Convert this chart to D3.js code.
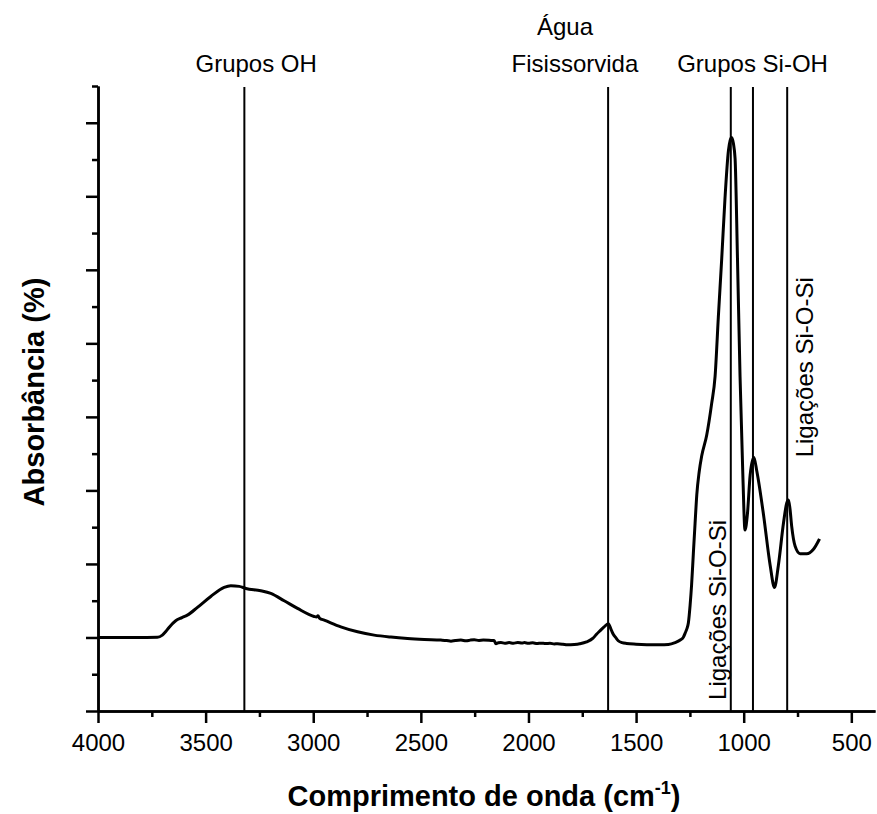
<!DOCTYPE html>
<html>
<head>
<meta charset="utf-8">
<script src="https://cdn.jsdelivr.net/npm/d3@7"></script>
<style>
    body { margin: 0; background: #fff; }
    svg text { font-family: "Liberation Sans", Arial, sans-serif; fill: #000; }
</style>
</head>
<body>
<svg width="877" height="814"></svg>
<script>
// Spectrum (wavenumber in cm-1, absorbance in arbitrary %)
var waveNumbers = [4000, 3900, 3800, 3724, 3701, 3685, 3670, 3639, 3610, 3585, 3538, 3476, 3414, 3383,
    3344, 3313, 3244, 3197, 3135, 3073, 2996, 2985, 2978, 2970, 2949, 2872, 2794, 2717, 2639, 2562,
    2484, 2407, 2380, 2360, 2340, 2314, 2290, 2270, 2252, 2230, 2210, 2174, 2160, 2151, 2140, 2128,
    2110, 2090, 2070, 2050, 2030, 2019, 2000, 1980, 1960, 1942, 1920, 1900, 1880, 1865, 1840, 1820,
    1787, 1762, 1730, 1700, 1685, 1668, 1650, 1629, 1615, 1606, 1595, 1583, 1565, 1544, 1500, 1450,
    1389, 1350, 1319, 1295, 1280, 1272, 1265, 1257, 1249, 1242, 1234, 1226, 1218, 1207, 1195, 1172,
    1149, 1133, 1118, 1102, 1087, 1071, 1063, 1056, 1048, 1040, 1029, 1017, 1004, 994, 983, 970,
    953, 939, 908, 877, 857, 839, 815, 800, 792, 785, 777, 761, 738, 707, 676, 648];
var absorbance = [0, 0, 0, 0.02, 0.32, 0.8, 1.36, 2.27, 2.7, 3.04, 4.09, 5.58, 6.81, 7.04,
    6.95, 6.67, 6.36, 5.99, 4.99, 3.95, 2.86, 2.78, 2.95, 2.6, 2.36, 1.45, 0.77, 0.32, 0.05, -0.14,
    -0.27, -0.36, -0.42, -0.5, -0.42, -0.36, -0.45, -0.36, -0.32, -0.4, -0.36, -0.4, -0.42, -0.85, -0.72, -0.68,
    -0.78, -0.7, -0.78, -0.68, -0.76, -0.7, -0.78, -0.73, -0.82, -0.77, -0.82, -0.79, -0.88, -0.86, -0.92, -1.0,
    -0.95, -0.85, -0.6, -0.1, 0.4, 0.9, 1.4, 1.85, 1.0, 0.45, 0.0, -0.45, -0.7, -0.82, -0.92, -0.98,
    -1.0, -0.95, -0.7, -0.35, 0.05, 0.6, 1.1, 2.0, 4.4, 7.2, 11.4, 15.5, 19.4, 22.5, 24.7, 27.5,
    31.8, 35.5, 43.5, 51.6, 59.7, 66.2, 67.6, 68.0, 67.2, 65.1, 51.6, 35.5, 22.1, 14.6, 16.7, 22.1,
    24.5, 22.6, 16.7, 9.8, 6.8, 9.8, 15.6, 18.3, 18.7, 17.5, 15.1, 12.4, 11.4, 11.4, 12.0, 13.4];

// Axis ticks
var xMajorTicks = [4000, 3500, 3000, 2500, 2000, 1500, 1000, 500];
var xMinorTicks = [3750, 3250, 2750, 2250, 1750, 1250, 750];
var yMajorTicks = [-10, 0, 10, 20, 30, 40, 50, 60, 70];
var yMinorTicks = [-5, 5, 15, 25, 35, 45, 55, 65, 75];

// Marker lines and their labels
var markerLines = [3320, 1630, 1060, 957, 798];
var topLabels = [
    {text: 'Grupos OH', wn: 3265, row: 2},
    {text: 'Água', wn: 1830, row: 1},
    {text: 'Fisissorvida', wn: 1784, row: 2},
    {text: 'Grupos Si-OH', wn: 959, row: 2}
];
var sideLabels = [
    {text: 'Ligações Si-O-Si', wn: 1082, value: -8.5},
    {text: 'Ligações Si-O-Si', wn: 680, value: 24.5}
];

var svg = d3.select('svg');

var xScale = d3.scaleLinear()
    .domain([4000, 390])
    .range([98, 875]);

var yScale = d3.scaleLinear()
    .domain([-10, 75])
    .range([711, 86]);

var spectrum = waveNumbers.map(function(w, i) {
    return {wn: w, a: absorbance[i]};
});

// Marker lines go from the top of the frame to the x axis
svg.append('g').selectAll('.marker')
    .data(markerLines)
    .enter()
    .append('line')
    .attr('class', 'marker')
    .attr('x1', function(d) { return xScale(d); })
    .attr('x2', function(d) { return xScale(d); })
    .attr('y1', yScale(75) + 1)
    .attr('y2', yScale(-10))
    .attr('stroke', '#000')
    .attr('stroke-width', 2);

// Spectrum curve
var line = d3.line()
    .x(function(d) { return xScale(d.wn); })
    .y(function(d) { return yScale(d.a); })
    .curve(d3.curveMonotoneX);

svg.append('path')
    .datum(spectrum)
    .attr('d', line)
    .attr('fill', 'none')
    .attr('stroke', '#000')
    .attr('stroke-width', 3)
    .attr('stroke-linejoin', 'round');

// Axes
var xAxisG = svg.append('g')
    .attr('transform', 'translate(0,' + yScale(-10) + ')');
xAxisG.call(d3.axisBottom(xScale)
    .tickValues(xMajorTicks)
    .tickSize(12)
    .tickSizeOuter(0)
    .tickPadding(11)
    .tickFormat(d3.format('d')));
xAxisG.append('g').call(d3.axisBottom(xScale)
    .tickValues(xMinorTicks)
    .tickSize(6)
    .tickSizeOuter(0)
    .tickFormat(''));

var yAxisG = svg.append('g')
    .attr('transform', 'translate(' + xScale(4000) + ',0)');
yAxisG.call(d3.axisLeft(yScale)
    .tickValues(yMajorTicks)
    .tickSize(12)
    .tickSizeOuter(0)
    .tickFormat(''));
yAxisG.append('g').call(d3.axisLeft(yScale)
    .tickValues(yMinorTicks)
    .tickSize(6)
    .tickSizeOuter(0)
    .tickFormat(''));

svg.selectAll('.domain, .tick line')
    .attr('stroke', '#000')
    .attr('stroke-width', 2.5);
svg.selectAll('.tick text')
    .attr('fill', '#000')
    .style('font-size', '24px')
    .style('font-family', '"Liberation Sans", Arial, sans-serif');

// Labels above the frame
svg.append('g').selectAll('.toplabel')
    .data(topLabels)
    .enter()
    .append('text')
    .attr('class', 'toplabel')
    .attr('x', function(d) { return xScale(d.wn); })
    .attr('y', function(d) { return d.row === 1 ? 35 : 72; })
    .attr('text-anchor', 'middle')
    .style('font-size', '24px')
    .text(function(d) { return d.text; });

// Rotated labels beside the Si-O-Si lines
svg.append('g').selectAll('.sidelabel')
    .data(sideLabels)
    .enter()
    .append('text')
    .attr('class', 'sidelabel')
    .attr('transform', function(d) {
        return 'translate(' + xScale(d.wn) + ',' + yScale(d.value) + ') rotate(-90)';
    })
    .style('font-size', '24px')
    .text(function(d) { return d.text; });

// Axis titles
var xTitle = svg.append('text')
    .attr('x', 484)
    .attr('y', 806)
    .attr('text-anchor', 'middle')
    .style('font-size', '29px')
    .style('font-weight', 'bold');
xTitle.append('tspan').text('Comprimento de onda (cm');
xTitle.append('tspan').attr('dy', -12).style('font-size', '18px').text('-1');
xTitle.append('tspan').attr('dy', 12).text(')');

svg.append('text')
    .attr('transform', 'translate(44,392) rotate(-90)')
    .attr('text-anchor', 'middle')
    .style('font-size', '29px')
    .style('font-weight', 'bold')
    .text('Absorbância (%)');
</script>
</body>
</html>
